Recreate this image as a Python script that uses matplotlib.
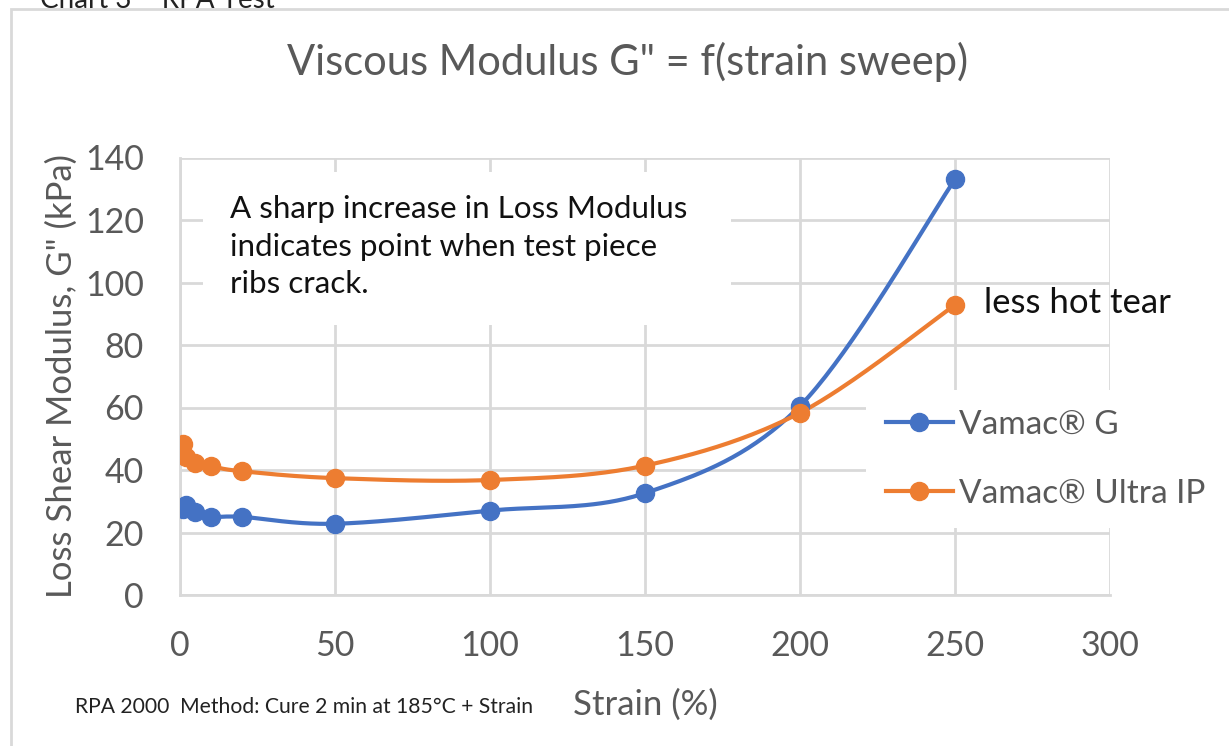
import numpy as np
import matplotlib
matplotlib.use("Agg")
import matplotlib.pyplot as plt
from matplotlib.patches import Rectangle

plt.rcParams['font.family'] = ['Lato', 'DejaVu Sans']

# strain (%) and loss modulus G'' (kPa)
strain = [1, 2, 5, 10, 20, 50, 100, 150, 200, 250]
vamac_g = [27.5, 28.7, 26.5, 25.0, 25.0, 22.8, 27.0, 32.6, 60.5, 133.0]
vamac_ultra = [48.2, 44.3, 42.2, 41.2, 39.6, 37.4, 36.8, 41.4, 58.3, 92.8]

x_ticks = [0, 50, 100, 150, 200, 250, 300]
y_ticks = [0, 20, 40, 60, 80, 100, 120, 140]

BLUE = '#4472C4'
ORANGE = '#ED7D31'
GRID = '#D9D9D9'
TXT = '#595959'


def excel_smooth(xs, ys, n=40):
    # bezier smoothing like excel "smoothed line"
    p = np.column_stack([xs, ys]).astype(float)
    p = np.vstack([p[0], p, p[-1]])
    out = []
    for i in range(1, len(p) - 2):
        p0, p1, p2, p3 = p[i - 1], p[i], p[i + 1], p[i + 2]
        c1 = p1 + (p2 - p0) / 6
        c2 = p2 - (p3 - p1) / 6
        t = np.linspace(0, 1, n)[:, None]
        seg = ((1 - t) ** 3) * p1 + 3 * ((1 - t) ** 2) * t * c1 + 3 * (1 - t) * t ** 2 * c2 + t ** 3 * p2
        out.append(seg if i == 1 else seg[1:])
    s = np.vstack(out)
    return s[:, 0], s[:, 1]


fig = plt.figure(figsize=(12.29, 7.46), dpi=100)

# chart outline (excel chart area)
fig.patches.append(Rectangle((11 / 1229, -0.1), 1.2, 737 / 746 + 0.1, transform=fig.transFigure,
                             fill=False, edgecolor=GRID, lw=2))
fig.text(40 / 1229, 1.0, 'Chart 3 \u2013 RPA Test', fontsize=20, color='#222222', va='center')

ax = fig.add_axes([180 / 1229, 151 / 746, 930 / 1229, 437.5 / 746])

for xs_, ys_, c, lab in [(strain, vamac_g, BLUE, 'Vamac® G'), (strain, vamac_ultra, ORANGE, 'Vamac® Ultra IP')]:
    sx, sy = excel_smooth(xs_, ys_)
    ax.plot(sx, sy, color=c, lw=3, zorder=3, solid_capstyle='round')
    ax.plot(xs_, ys_, 'o', color=c, ms=13, zorder=4)
    ax.plot([], [], '-o', color=c, lw=3, ms=13, label=lab)

ax.set_xlim(0, 300)
ax.set_ylim(0, 140)
ax.set_xticks(x_ticks)
ax.set_yticks(y_ticks)
ax.grid(True, color=GRID, lw=2)
ax.set_axisbelow(True)
for s in ['top', 'right']:
    ax.spines[s].set_visible(False)
for s in ['left', 'bottom']:
    ax.spines[s].set_color(GRID)
    ax.spines[s].set_linewidth(2)
ax.tick_params(length=0, labelsize=24.5, labelcolor=TXT)
ax.tick_params(axis='y', pad=26)
ax.tick_params(axis='x', pad=25)

ax.set_xlabel('Strain (%)', fontsize=25, color=TXT, labelpad=19)
ax.set_ylabel('Loss Shear Modulus, G" (kPa)', fontsize=25, color=TXT, labelpad=5)
fig.text(628 / 1229, 1 - 62 / 746, 'Viscous Modulus G" = f(strain sweep)', fontsize=30,
         color=TXT, ha='center', va='center')

# annotation box covering the grid
ax.add_patch(Rectangle((7.4, 86.5), 170.5, 48.8, facecolor='white', edgecolor='none', zorder=2))
ax.text(16, 111.5, 'A sharp increase in Loss Modulus\nindicates point when test piece\nribs crack.',
        fontsize=22.6, color='#111111', va='center', ha='left', linespacing=1.42, zorder=5)

ax.text(259.5, 93.4, 'less hot tear', fontsize=25, color='#111111', va='center', ha='left', zorder=5)

leg = fig.legend(loc='upper left', bbox_to_anchor=(866 / 1229, 1 - 390 / 746), fontsize=24,
                 frameon=True, facecolor='white', edgecolor='none', framealpha=1,
                 labelcolor=TXT, handlelength=2.0, handletextpad=0.2, labelspacing=1.15,
                 borderpad=0.6, borderaxespad=0)
leg.get_frame().set_boxstyle('square', pad=0)

fig.text(75 / 1229, 1 - 707 / 746, 'RPA 2000  Method: Cure 2 min at 185°C + Strain',
         fontsize=15.2, color='#222222', va='center', ha='left')

fig.savefig('out.png', dpi=100, facecolor='white')
